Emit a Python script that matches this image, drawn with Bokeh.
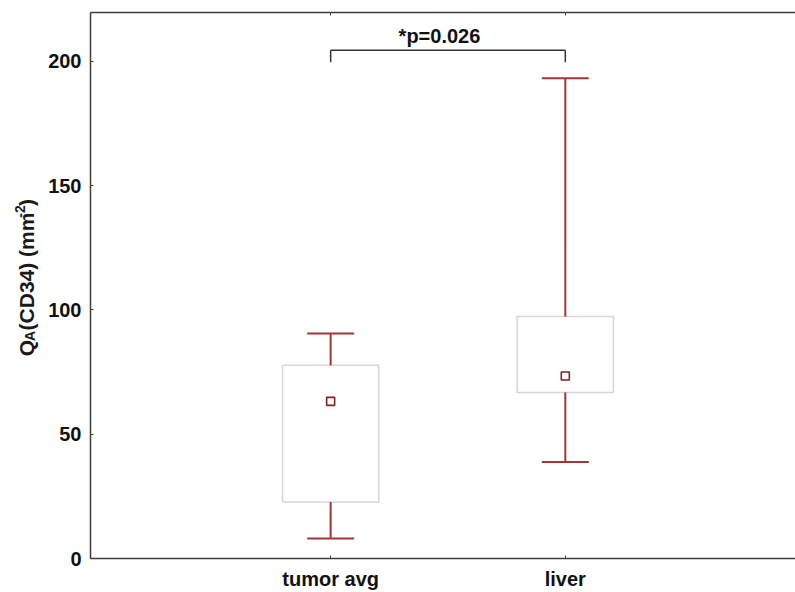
import math
from bokeh.plotting import figure
from bokeh.layouts import row
from bokeh.models import FixedTicker, LinearAxis, Label, Range1d, ColumnDataSource
from bokeh.embed import file_html
from bokeh.resources import INLINE

# ---- data ----
categories = ["tumor avg", "liver"]
whisker_min = [8.0, 38.8]
box_low = [22.7, 66.8]
mean_vals = [63.2, 73.4]
box_high = [77.7, 97.3]
whisker_max = [90.5, 193.2]
y_ticks = [0, 50, 100, 150, 200]
p_label = "*p=0.026"

xpos = [i + 1 for i in range(len(categories))]

FONT = "Liberation Sans"
WHISK = "#a03636"
MARK = "#7c2424"
BOXC = "#d6d6d6"
AXC = "#3c3c3c"
TITLE_W = 45

# ---- narrow figure holding the rotated y-axis title ----
t = figure(width=TITLE_W, height=592, output_backend="svg", toolbar_location=None,
           x_range=Range1d(0, TITLE_W), y_range=Range1d(592, 0),
           x_axis_type=None, y_axis_type=None,
           min_border_left=0, min_border_right=0, min_border_top=0, min_border_bottom=0)
t.outline_line_color = None
t.xgrid.visible = False
t.ygrid.visible = False
t.border_fill_color = "white"
t.background_fill_color = "white"

# pieces: (text, font px, advance width in em, baseline x in px); None = a plain gap
pieces = [("Q", 21, 0.778, 33.0),
          ("A", 14, 0.722, 34.5),
          (None, 21, 0.278, 0.0),
          ("(CD34) (mm", 21, 5.611, 33.0),
          ("-2", 14, 0.889, 24.0),
          (")", 21, 0.333, 33.0)]
pos = 372.0
for txt, size, em, base in pieces:
    w = em * size
    if txt is not None:
        t.add_layout(Label(x=base - 0.35 * size, y=pos - w / 2, text=txt, angle=math.pi / 2,
                           text_align="center", text_baseline="middle",
                           text_font=FONT, text_font_style="bold",
                           text_font_size=f"{size}px", text_color="#1a1a1a"))
    pos -= w

# ---- main chart ----
p = figure(width=795 - TITLE_W, height=592, output_backend="svg", toolbar_location=None,
           x_range=Range1d(-0.0234, 2.981), y_range=Range1d(0, 219.6),
           min_border_left=89 - TITLE_W, min_border_right=0, min_border_top=12,
           min_border_bottom=31)
p.outline_line_color = None
p.xgrid.visible = False
p.ygrid.visible = False
p.background_fill_color = "white"
p.border_fill_color = "white"

def dx(px):
    return 1 + (px - 329.5) / 235.0

def dy(py):
    return (560.5 - py) / 2.4975

src = ColumnDataSource(dict(x=xpos, wmin=whisker_min, lo=box_low, mean=mean_vals,
                            hi=box_high, wmax=whisker_max,
                            left=[v - 0.205 for v in xpos], right=[v + 0.205 for v in xpos],
                            cl=[v - 0.1 for v in xpos], cr=[v + 0.1 for v in xpos]))

p.quad(left="left", right="right", bottom="lo", top="hi", source=src,
       fill_color=None, line_color=BOXC, line_width=1.5)
p.segment(x0="x", y0="hi", x1="x", y1="wmax", source=src, line_color=WHISK, line_width=2)
p.segment(x0="x", y0="lo", x1="x", y1="wmin", source=src, line_color=WHISK, line_width=2)
p.segment(x0="cl", y0="wmax", x1="cr", y1="wmax", source=src, line_color=WHISK, line_width=2)
p.segment(x0="cl", y0="wmin", x1="cr", y1="wmin", source=src, line_color=WHISK, line_width=2)
p.scatter(x="x", y="mean", source=src, marker="square", size=8,
          fill_color="white", line_color=MARK, line_width=1.6)

by = dy(50)
bl = dy(62)
p.segment(x0=[xpos[0], xpos[0], xpos[1]], y0=[by, by, by],
          x1=[xpos[1], xpos[0], xpos[1]], y1=[by, bl, bl],
          line_color="#333333", line_width=1.5)
p.add_layout(Label(x=dx(438.5), y=dy(35.5), text=p_label, text_align="center",
                   text_baseline="alphabetic", text_font=FONT, text_font_style="bold",
                   text_font_size="20px", text_color="#111111"))

p.xaxis.ticker = FixedTicker(ticks=xpos)
p.xaxis.major_label_overrides = {x: c for x, c in zip(xpos, categories)}
p.yaxis.ticker = FixedTicker(ticks=y_ticks)
for ax in (p.xaxis[0], p.yaxis[0]):
    ax.axis_line_color = AXC
    ax.axis_line_width = 1.5
    ax.major_tick_line_color = AXC
    ax.major_tick_in = 3
    ax.major_tick_out = 0
    ax.minor_tick_line_color = None
    ax.major_label_text_font = FONT
    ax.major_label_text_font_style = "bold"
    ax.major_label_text_font_size = "20px"
    ax.major_label_text_color = "#111111"
p.yaxis.major_label_standoff = 9
p.xaxis.major_label_standoff = 9

top = LinearAxis(ticker=FixedTicker(ticks=xpos), axis_line_color=AXC, axis_line_width=1.5,
                 major_tick_line_color=AXC, major_tick_in=3, major_tick_out=0,
                 minor_tick_line_color=None, major_label_text_font_size="0px",
                 major_label_standoff=0)
p.add_layout(top, "above")

layout = row(t, p, spacing=0)
open("out.html", "w").write(file_html(layout, INLINE))
